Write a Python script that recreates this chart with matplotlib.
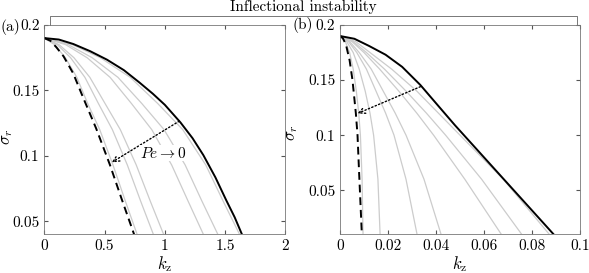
import numpy as np
import matplotlib.pyplot as plt

plt.rcParams['font.family'] = 'serif'
plt.rcParams['font.serif'] = ['cmr10', 'DejaVu Serif']
plt.rcParams['mathtext.fontset'] = 'cm'
plt.rcParams['axes.formatter.use_mathtext'] = True
plt.rcParams['font.size'] = 11

# panel (a)
k_a_solid = [0, 0.12, 0.24, 0.38, 0.52, 0.66, 0.79, 0.90, 1.0, 1.13, 1.23, 1.32, 1.42, 1.51, 1.58, 1.64]
s_a_solid = [0.19, 0.1889, 0.1855, 0.180, 0.1735, 0.1655, 0.156, 0.1475, 0.139, 0.1255, 0.1135, 0.1005, 0.0835, 0.066, 0.053, 0.04]
k_a_dash = [0, 0.05, 0.10, 0.16, 0.24, 0.32, 0.43, 0.545, 0.64, 0.745]
s_a_dash = [0.19, 0.188, 0.183, 0.176, 0.163, 0.145, 0.121, 0.093, 0.0675, 0.04]
sig_a = [0.19, 0.185, 0.175, 0.16, 0.14, 0.12, 0.093, 0.065, 0.04]
k_a_grey = [
    [0, 0.085, 0.175, 0.27, 0.36, 0.46, 0.57, 0.674, 0.77],
    [0, 0.108, 0.218, 0.337, 0.449, 0.565, 0.689, 0.801, 0.905],
    [0, 0.122, 0.246, 0.378, 0.504, 0.631, 0.763, 0.881, 0.99],
    [0, 0.177, 0.355, 0.546, 0.723, 0.892, 1.057, 1.195, 1.32],
    [0, 0.199, 0.397, 0.611, 0.809, 0.994, 1.169, 1.31, 1.44],
    [0, 0.233, 0.465, 0.713, 0.941, 1.149, 1.34, 1.486, 1.62],
]

# panel (b)
k_b_solid = [0, 0.006, 0.0121, 0.019, 0.0259, 0.0335, 0.040, 0.0479, 0.089]
s_b_solid = [0.19, 0.1875, 0.181, 0.173, 0.162, 0.1455, 0.129, 0.109, 0.01]
k_b_dash = [0, 0.0012, 0.0025, 0.0040, 0.0052, 0.0066, 0.0073, 0.0080, 0.0091]
s_b_dash = [0.19, 0.188, 0.182, 0.168, 0.15, 0.12, 0.10, 0.064, 0.01]
sig_b = [0.19, 0.185, 0.175, 0.16, 0.14, 0.12, 0.10, 0.06, 0.01]
k_b_grey = [
    [0, 0.0022, 0.0040, 0.0055, 0.0068, 0.0078, 0.0085, 0.0092, 0.0096],
    [0, 0.0028, 0.0055, 0.0080, 0.0105, 0.0125, 0.0140, 0.0158, 0.0167],
    [0, 0.0035, 0.0070, 0.0110, 0.0150, 0.0190, 0.0225, 0.0275, 0.0321],
    [0, 0.0040, 0.0080, 0.0130, 0.0180, 0.0230, 0.0275, 0.0350, 0.0421],
    [0, 0.0050, 0.0100, 0.0165, 0.0245, 0.0320, 0.0390, 0.0520, 0.0672],
    [0, 0.0055, 0.0110, 0.0185, 0.0275, 0.0360, 0.0440, 0.0590, 0.0757],
    [0, 0.0065, 0.0125, 0.0215, 0.0320, 0.0410, 0.0500, 0.0680, 0.0872],
]

fig = plt.figure(figsize=(5.89, 2.73), dpi=100)
ax1 = fig.add_axes([44.3/589, 38.7/273, 241/589, 209.3/273])
ax2 = fig.add_axes([340/589, 38.7/273, 240/589, 209.3/273])

grey = '#cccccc'
for ax, sig, kg, kd, sd, ks, ss in [
        (ax1, sig_a, k_a_grey, k_a_dash, s_a_dash, k_a_solid, s_a_solid),
        (ax2, sig_b, k_b_grey, k_b_dash, s_b_dash, k_b_solid, s_b_solid)]:
    for k in kg:
        ax.plot(k, sig, color=grey, lw=0.9)
    ax.plot(ks, ss, color='k', lw=1.4)
    ax.plot(kd, sd, color='k', lw=1.4, ls=(0, (4, 2.5)))
    ax.tick_params(direction='in', top=True, right=True, length=3,
                   color='#555555', labelsize=11)
    for s in ax.spines.values():
        s.set_color('#777777')
        s.set_linewidth(0.6)
    ax.set_xlabel(r'$k_\mathrm{z}$', fontsize=12, labelpad=1)
    ax.set_ylabel(r'$\sigma_r$', fontsize=12)

ax1.yaxis.set_label_coords(-0.122, 0.465)
ax2.yaxis.set_label_coords(-0.165, 0.485)

ax1.set_xlim(0, 2)
ax1.set_ylim(0.04, 0.2)
ax1.set_xticks([0, 0.5, 1, 1.5, 2])
ax1.set_xticklabels(['0', '0.5', '1', '1.5', '2'])
ax1.set_yticks([0.05, 0.1, 0.15, 0.2])
ax1.set_yticklabels(['0.05', '0.1', '0.15', '0.2'])

ax2.set_xlim(0, 0.1)
ax2.set_ylim(0.01, 0.2)
ax2.set_xticks([0, 0.02, 0.04, 0.06, 0.08, 0.1])
ax2.set_xticklabels(['0', '0.02', '0.04', '0.06', '0.08', '0.1'])
ax2.set_yticks([0.05, 0.1, 0.15, 0.2])
ax2.set_yticklabels(['0.05', '0.1', '0.15', '0.2'])

ax1.annotate('', xy=(0.56, 0.095), xytext=(1.12, 0.1265),
             arrowprops=dict(arrowstyle='->', ls=':', lw=1.0, color='k',
                             shrinkA=0, shrinkB=0))
ax1.text(0.985, 0.102, r'$Pe \rightarrow 0$', ha='center', va='center',
         fontsize=11, bbox=dict(facecolor='white', edgecolor='none', pad=0.5))
ax2.annotate('', xy=(0.0073, 0.1197), xytext=(0.0335, 0.144),
             arrowprops=dict(arrowstyle='->', ls=':', lw=1.0, color='k',
                             shrinkA=0, shrinkB=0))

# bracket + title
fig.add_artist(plt.Line2D([50/589, 50/589, 577/589, 577/589],
                          [1 - 25/273, 1 - 16/273, 1 - 16/273, 1 - 24/273],
                          color='#777777', lw=0.7))
fig.text(303/589, 1 - 7/273, 'Inflectional instability', ha='center',
         va='center', fontsize=11)
fig.text(0/589, 1 - 27/273, '(a)', ha='left', va='center', fontsize=11)
fig.text(293/589, 1 - 25/273, '(b)', ha='left', va='center', fontsize=11)

fig.savefig('out.png', dpi=100)
